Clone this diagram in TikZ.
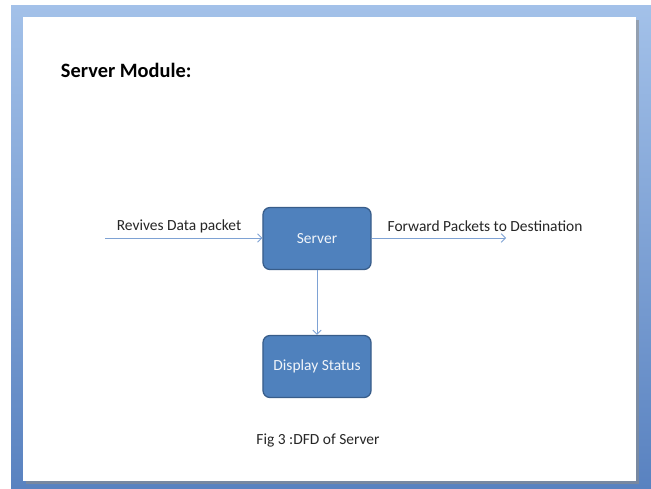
\documentclass[tikz,border=0pt]{standalone}
\usepackage{fontspec}
\setmainfont{Carlito}
\usetikzlibrary{positioning,arrows.meta}
\definecolor{slideTop}{HTML}{A3C1E9}
\definecolor{slideBottom}{HTML}{5982C0}
\definecolor{boxFill}{HTML}{4F81BD}
\definecolor{boxLine}{HTML}{385D8A}
\definecolor{flowLine}{HTML}{7EA2D4}

\begin{document}
\begin{tikzpicture}[
        x=0.025cm, y=-0.025cm,
        box/.style={draw=boxLine, fill=boxFill, rounded corners=5pt, line width=0.9pt, text=white!92!boxFill,
                    minimum width=2.7cm, minimum height=1.55cm, font=\fontsize{11}{13}\selectfont},
        arr/.style={-{Straight Barb[length=3pt, width=6pt]}, draw=flowLine, line width=0.6pt},
        lbl/.style={font=\fontsize{11}{13}\selectfont, text=black!85, inner sep=1pt}
    ]
        % --- Slide background ---
        \useasboundingbox (0,0) rectangle (651,488);
        \fill[white] (0,0) rectangle (651,488);
        \shade[top color=slideTop, bottom color=slideBottom] (11,5) rectangle (651,488);
        \fill[black!45, opacity=0.6] (26,20) rectangle (639,484);
        \fill[white] (23,17) rectangle (636,481);

        % Title
        \node[font=\fontsize{14.5}{16}\selectfont\bfseries, anchor=west] (titulo) at (56,70) {Server Module:};

        % Processes
        \node[box] (server) at (317,238.5) {Server};
        \node[box] (display) at (317,366.5) {Display Status};

        % Free ends
        \coordinate (entrada) at (105,238);
        \coordinate (salida) at (506,238);

        % Flows
        \draw[arr] (entrada) -- (server.west |- entrada);
        \draw[arr] (server.east |- salida) -- (salida);
        \draw[arr] (server) -- (display);

        \node[lbl] (recibe) at (179,226) {Revives Data packet};
        \node[lbl] (reenvia) at (485,226) {Forward Packets to Destination};

        % Caption
        \node[lbl] (pie) at (318,441) {Fig 3 :DFD of Server};
    \end{tikzpicture}
\end{document}
